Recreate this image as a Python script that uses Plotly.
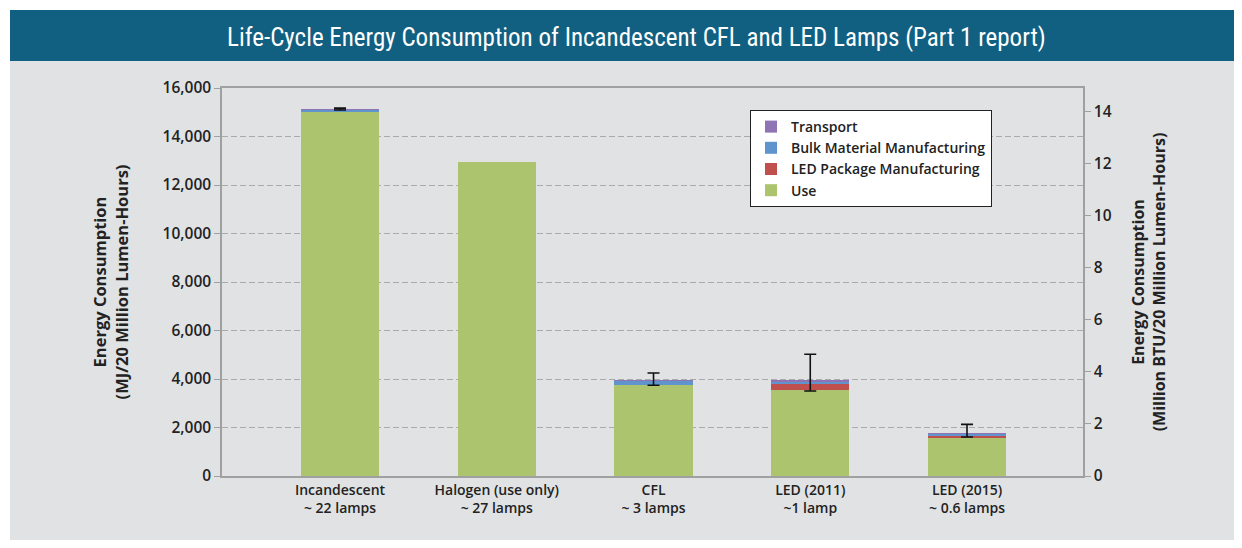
import plotly.graph_objects as go

categories = ["Incandescent<br>~ 22 lamps", "Halogen (use only)<br>~ 27 lamps", "CFL<br>~ 3 lamps",
              "LED (2011)<br>~1 lamp", "LED (2015)<br>~ 0.6 lamps"]
use = [15050, 12950, 3760, 3540, 1600]
led_package = [0, 0, 0, 240, 80]
bulk_material = [70, 0, 160, 125, 70]
transport = [10, 0, 10, 15, 10]
err_plus = [40, None, 320, 1100, 370]
err_minus = [40, None, 190, 415, 150]

left_ticks = list(range(0, 16001, 2000))
right_ticks = list(range(0, 15, 2))

xpos = list(range(len(categories)))
totals = [u + l + b + t if e is not None else None
          for u, l, b, t, e in zip(use, led_package, bulk_material, transport, err_plus)]

FONT = "Open Sans, Lato, sans-serif"
fig = go.Figure()
series = [("Use", use, "#abc46d"),
          ("LED Package Manufacturing", led_package, "#c0504d"),
          ("Bulk Material Manufacturing", bulk_material, "#5f95cc"),
          ("Transport", transport, "#8e73b5")]
for name, vals, col in series:
    fig.add_trace(go.Bar(x=xpos, y=vals, name=name, marker=dict(color=col, line=dict(width=0)),
                         width=0.5))

fig.add_trace(go.Scatter(x=xpos, y=totals, mode="markers", marker=dict(opacity=0, size=1),
                         showlegend=False, hoverinfo="skip",
                         error_y=dict(type="data", symmetric=False,
                                      array=[e if e is not None else 0 for e in err_plus],
                                      arrayminus=[e if e is not None else 0 for e in err_minus],
                                      color="#111111", thickness=1.6, width=6)))
# invisible trace to activate right axis
fig.add_trace(go.Scatter(x=[None], y=[None], yaxis="y2", showlegend=False))

# page has an 8px body margin; work in page pixel coordinates
OFF = 8
W, H = 1234, 532
L = 222 - OFF
T = 88 - OFF
B = H - (476 - OFF)
R = W - (1083 - OFF)
pw, ph = W - L - R, H - T - B
def px_x(p): return (p - OFF - L) / pw
def px_y(p): return (H - B - (p - OFF)) / ph

fig.update_layout(
    width=W, height=H,
    margin=dict(l=L, r=R, t=T, b=B),
    paper_bgcolor="white", plot_bgcolor="white",
    barmode="stack",
    font=dict(family=FONT, color="#222222", size=13),
    xaxis=dict(range=[-0.753, 4.740], tickvals=xpos, ticktext=categories,
               showline=True, linecolor="#a0a0a0", linewidth=1.5, mirror=True,
               showgrid=False, zeroline=False, ticks="",
               tickfont=dict(size=14, family=FONT, weight=600)),
    yaxis=dict(range=[0, 16000], tickvals=left_ticks, tickformat=",",
               showline=True, linecolor="#a0a0a0", linewidth=1.5,
               ticks="outside", ticklen=6, tickcolor="#a0a0a0",
               showgrid=True, gridcolor="#aaaaaa", griddash="6px,3px", gridwidth=1,
               zeroline=False,
               tickfont=dict(size=15.5, family=FONT, weight=600),
               title=dict(text="Energy Consumption<br>(MJ/20 Million Lumen-Hours)",
                          font=dict(size=16.5, family=FONT, weight=700), standoff=30)),
    yaxis2=dict(range=[0, 14.92], tickvals=right_ticks, overlaying="y", side="right",
                showline=True, linecolor="#a0a0a0", linewidth=1.5,
                ticks="outside", ticklen=6, tickcolor="#a0a0a0",
                showgrid=False, zeroline=False,
                tickfont=dict(size=15.5, family=FONT, weight=600),
                title=dict(text="Energy Consumption<br>(Million BTU/20 Million Lumen-Hours)",
                           font=dict(size=16, family=FONT, weight=700), standoff=22)),
    legend=dict(x=px_x(750), y=px_y(110), xanchor="left", yanchor="top",
                traceorder="reversed", bgcolor="white", bordercolor="#222222", borderwidth=1,
                font=dict(size=14, family=FONT, weight=600), itemwidth=30),
    shapes=[
        dict(type="rect", xref="paper", yref="paper", layer="below",
             x0=px_x(10), x1=px_x(1242), y0=px_y(540), y1=px_y(61),
             fillcolor="#e1e2e4", line=dict(width=0)),
        dict(type="rect", xref="paper", yref="paper", layer="below",
             x0=px_x(10), x1=px_x(1242), y0=px_y(61), y1=px_y(10),
             fillcolor="#115f81", line=dict(width=0)),
    ],
    annotations=[dict(text="Life-Cycle Energy Consumption of Incandescent CFL and LED Lamps (Part 1 report)",
                      xref="paper", yref="paper", x=px_x(636), y=px_y(37),
                      xanchor="center", yanchor="middle", showarrow=False,
                      font=dict(size=25, color="white",
                                family="Liberation Sans Narrow, Roboto Condensed, Arial Narrow, sans-serif"))],
)
fig.write_html("out.html")
